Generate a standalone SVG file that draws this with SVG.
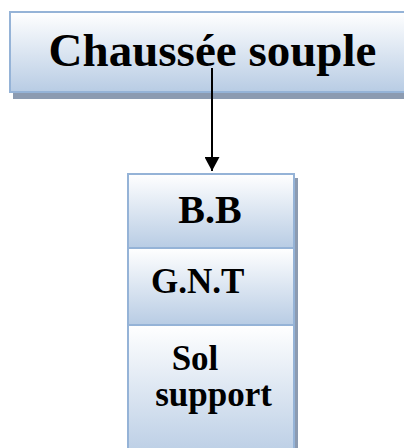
<svg xmlns="http://www.w3.org/2000/svg" width="404" height="448" viewBox="0 0 404 448">
  <defs>
    <linearGradient id="g" x1="0" y1="0" x2="0" y2="1">
      <stop offset="0" stop-color="#ffffff"/>
      <stop offset="1" stop-color="#b8cce4"/>
    </linearGradient>
    <marker id="ah" markerWidth="14" markerHeight="15" refX="14" refY="7.5" orient="auto" markerUnits="userSpaceOnUse" viewBox="0 0 14 15">
      <path d="M0,0 L14,7.5 L0,15 Z" fill="#000"/>
    </marker>
    <style>
      .box { fill: url(#g); stroke: #95b3d7; stroke-width: 2; }
      .shadow { fill: #8c9bb1; }
      .t { font-family: "Liberation Serif", "Times New Roman", "DejaVu Serif", serif; font-weight: bold; fill: #000; }
    </style>
  </defs>
  <rect width="404" height="448" fill="#ffffff"/>

  <g id="chaussee">
    <rect class="shadow" x="13" y="17" width="410" height="82"/>
    <rect class="box" x="10" y="12" width="410" height="80"/>
    <text class="t" x="212.5" y="66" font-size="47" text-anchor="middle">Chaussée souple</text>
  </g>

  <g id="stack-shadow">
    <rect class="shadow" x="132" y="178" width="166" height="290"/>
  </g>

  <g id="bb">
    <rect class="box" x="128" y="174" width="166" height="74"/>
    <text class="t" x="210" y="223" font-size="40" text-anchor="middle">B.B</text>
  </g>

  <g id="gnt">
    <rect class="box" x="128" y="248" width="166" height="77"/>
    <text class="t" x="151" y="293" font-size="35">G.N.T</text>
  </g>

  <g id="sol">
    <rect class="box" x="128" y="325" width="166" height="135"/>
    <text class="t" x="195" y="370" font-size="35" text-anchor="middle">Sol</text>
    <text class="t" x="213.5" y="406" font-size="35" text-anchor="middle">support</text>
  </g>

  <g id="connectors">
    <line x1="212" y1="68" x2="212" y2="171" stroke="#000" stroke-width="2" marker-end="url(#ah)"/>
  </g>
</svg>
